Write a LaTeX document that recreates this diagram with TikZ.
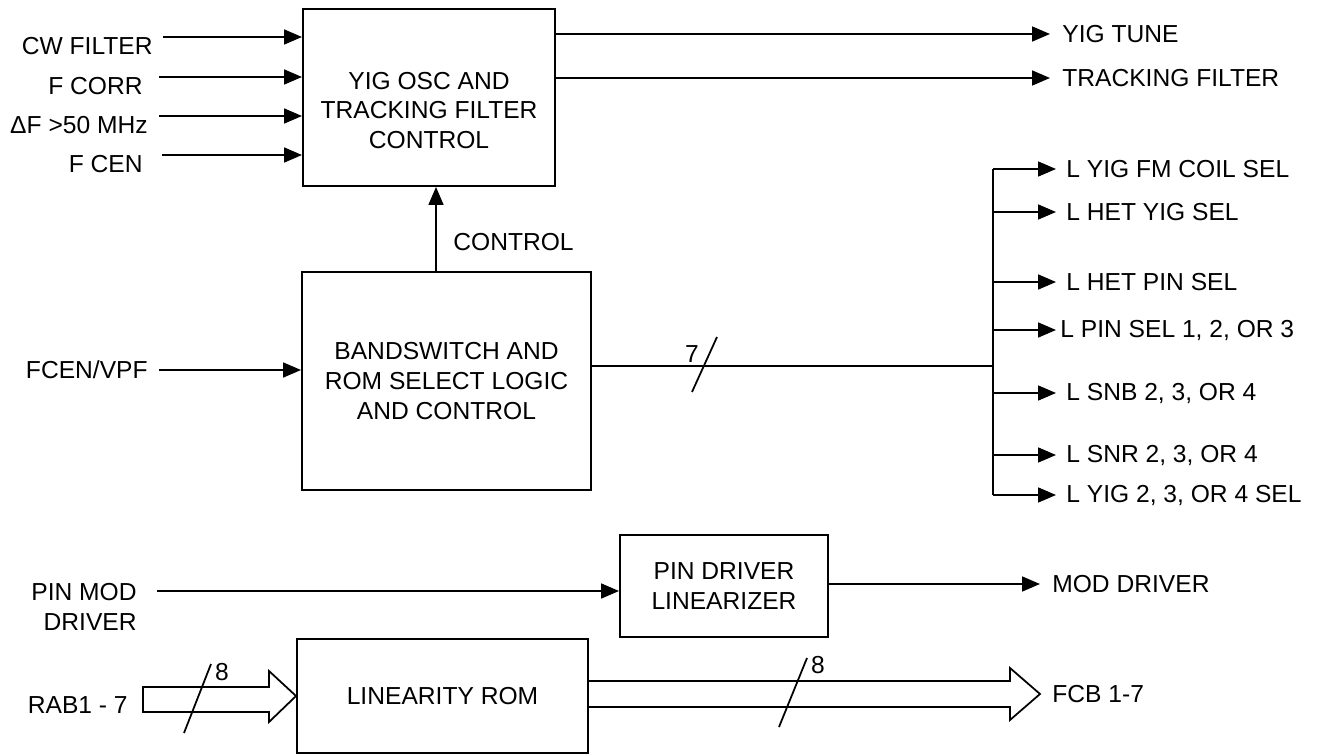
\documentclass[tikz,border=0pt]{standalone}
\usepackage{fontspec}
\setmainfont{Liberation Sans}
\usetikzlibrary{arrows.meta,positioning}
\newcommand{\dgfont}{\fontsize{14pt}{17pt}\selectfont}

\begin{document}
\begin{tikzpicture}[
    x=0.2mm,y=-0.2mm,
    box/.style={draw=black,line width=1.1pt,fill=none,
      align=center,inner sep=0pt,font=\dgfont},
    lbl/.style={inner sep=0pt,font=\dgfont},
    arrow/.style={-{Triangle[length=3.6mm,width=3mm]},draw=black,line width=1pt},
    wire/.style={draw=black,line width=1pt},
    fat/.style={draw=black,line width=1pt}
  ]
    \useasboundingbox (0,0) rectangle (1328,756);
    % blocks
    \node[box,minimum width=5.04cm,minimum height=3.54cm] (yig) at (429,97.5) {};
    \node[lbl,align=center,yshift=-2.6mm] (yigtxt) at (yig.center) {YIG OSC AND\\TRACKING FILTER\\CONTROL};
    \node[box,minimum width=5.78cm,minimum height=4.36cm] (bsw) at (446.5,381) {BANDSWITCH AND\\ROM SELECT LOGIC\\AND CONTROL};
    \node[box,minimum width=4.16cm,minimum height=2.04cm] (pin) at (724,586) {PIN DRIVER\\LINEARIZER};
    \node[box,minimum width=5.82cm,minimum height=2.28cm] (rom) at (442.5,696) {LINEARITY ROM};

    % inputs of the yig block
    \node[lbl,anchor=north east] (cw) at (153,37) {CW FILTER};
    \node[lbl,anchor=north east] (fcorr) at (143,77) {F CORR};
    \node[lbl,anchor=north east] (df) at (148,116) {ΔF >50 MHz};
    \node[lbl,anchor=north east] (fcen) at (143,155) {F CEN};
    \draw[arrow] ([xshift=2mm]cw.north east) -- (cw.north east -| yig.west);
    \draw[arrow] ([xshift=3.2mm]fcorr.north east) -- (fcorr.north east -| yig.west);
    \draw[arrow] ([xshift=2.2mm]df.north east) -- (df.north east -| yig.west);
    \draw[arrow] ([xshift=3.8mm]fcen.north east) -- (fcen.north east -| yig.west);

    % outputs of the yig block
    \node[lbl,anchor=west] (ytune) at (1062,34) {YIG TUNE};
    \node[lbl,anchor=west] (tfilt) at (1062,78) {TRACKING FILTER};
    \draw[arrow] (yig.east |- ytune.west) -- ([xshift=-2.4mm]ytune.west);
    \draw[arrow] (yig.east |- tfilt.west) -- ([xshift=-2.4mm]tfilt.west);

    % control
    \node[lbl,anchor=west] (ctl) at (453,242) {CONTROL};
    \coordinate (ctlx) at (436,242);
    \draw[arrow] (bsw.north -| ctlx) -- (yig.south -| ctlx);

    % bandswitch input
    \node[lbl,anchor=east] (vpf) at (148,370) {FCEN/VPF};
    \draw[arrow] ([xshift=2.2mm]vpf.east) -- (vpf.east -| bsw.west);

    % 7 line bus
    \coordinate (busT) at (993,169);
    \coordinate (busJ) at (993,366);
    \coordinate (busB) at (993,495);
    \coordinate (tipx) at (1056,0);
    \draw[wire] (bsw.east |- busJ) -- (busJ);
    \draw[wire] (busT) -- (busB);
    \draw[wire] (692,392) -- (717,337);
    \node[lbl] (n7) at (692,354) {7};

    \node[lbl,anchor=west] (s1) at (1066,169) {L YIG FM COIL SEL};
    \node[lbl,anchor=west] (s2) at (1066,212) {L HET YIG SEL};
    \node[lbl,anchor=west] (s3) at (1066,282) {L HET PIN SEL};
    \node[lbl,anchor=west] (s4) at (1060,330) {L PIN SEL 1, 2, OR 3};
    \node[lbl,anchor=west] (s5) at (1066,393) {L SNB 2, 3, OR 4};
    \node[lbl,anchor=west] (s6) at (1066,455) {L SNR 2, 3, OR 4};
    \node[lbl,anchor=west] (s7) at (1066,495) {L YIG 2, 3, OR 4 SEL};
    \draw[arrow] (busT |- s1.west) -- (tipx |- s1.west);
    \draw[arrow] (busT |- s2.west) -- (tipx |- s2.west);
    \draw[arrow] (busT |- s3.west) -- (tipx |- s3.west);
    \draw[arrow] (busT |- s4.west) -- (tipx |- s4.west);
    \draw[arrow] (busT |- s5.west) -- (tipx |- s5.west);
    \draw[arrow] (busT |- s6.west) -- (tipx |- s6.west);
    \draw[arrow] (busT |- s7.west) -- (tipx |- s7.west);

    % pin driver
    \node[lbl,anchor=north east,align=right] (pmd) at (137,583) {PIN MOD\\DRIVER};
    \coordinate (pmS) at (157,591);
    \draw[arrow] (pmS) -- (pmS -| pin.west);
    \node[lbl,anchor=west] (mdrv) at (1052,584) {MOD DRIVER};
    \draw[arrow] (pin.east |- mdrv.west) -- ([xshift=-2.4mm]mdrv.west);

    % linearity rom buses
    \node[lbl,anchor=east] (rab) at (128,705) {RAB1 - 7};
    \draw[fat] (269,687) -- (143,687) -- (143,712) -- (269,712) -- (269,722)
      -- (rom.west) -- (269,671) -- cycle;
    \draw[wire] (184,733) -- (211,664);
    \node[lbl] (n8a) at (222,672) {8};

    \node[lbl,anchor=west] (fcb) at (1052,694) {FCB 1-7};
    \draw[fat] ([yshift=3mm]rom.east) -- (1010,681) -- (1010,668)
      -- ([xshift=-2.4mm]fcb.west) -- (1010,720) -- (1010,707) -- ([yshift=-2.2mm]rom.east);
    \draw[wire] (779,727) -- (807,658);
    \node[lbl] (n8b) at (818,665) {8};
\end{tikzpicture}
\end{document}
